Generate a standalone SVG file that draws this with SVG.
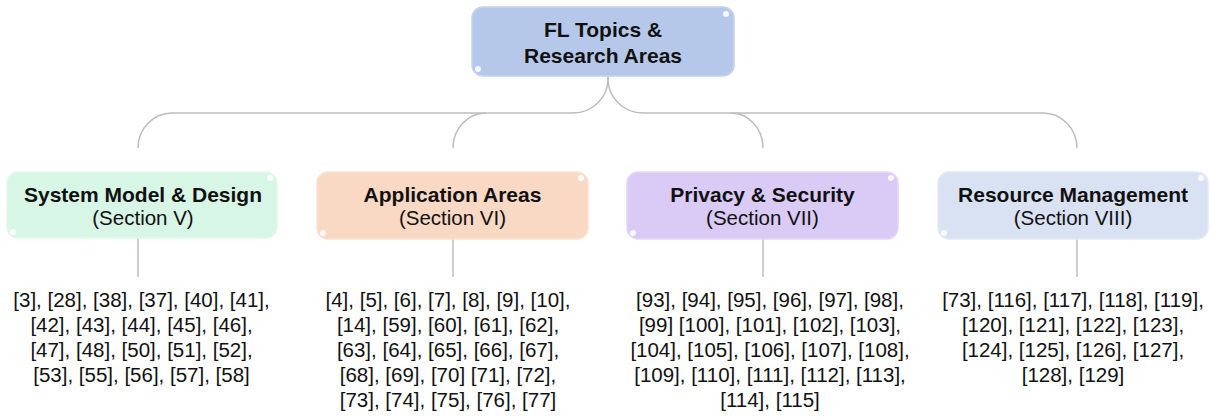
<svg xmlns="http://www.w3.org/2000/svg" width="1211" height="418" viewBox="0 0 1211 418">
<style>
  .box { stroke-width: 1.5; }
  .dot { fill: #ffffff; opacity: 0.85; }
  .t { font-family: "Liberation Sans", Arial, sans-serif; fill: #111111; text-anchor: middle; }
  .title { font-size: 21px; font-weight: bold; }
  .sub { font-size: 20.5px; }
  .refs { font-size: 20.5px; }
  .conn path { fill: none; stroke: #bdbdbd; stroke-width: 1.5; }
</style>
<rect width="1211" height="418" fill="#ffffff"/>

<g id="connectors" class="conn">
  <path d="M608,76 L608,79 A35,34 0 0 1 573,113 L172,113 A34,35 0 0 0 138,148"/>
  <path d="M486,113 A33,35 0 0 0 453,148"/>
  <path d="M608,76 L608,79 A35,34 0 0 0 643,113 L1043,113 A34,35 0 0 1 1077,148"/>
  <path d="M731,113 A32,35 0 0 1 763,148"/>
  <path d="M138,238 L138,277"/>
  <path d="M453,238 L453,277"/>
  <path d="M763,238 L763,277"/>
  <path d="M1077,238 L1077,277"/>
</g>

<g id="root">
  <rect class="box" x="472" y="7" width="262" height="69" rx="11" fill="#b6c8e9" stroke="#c3d2ee"/>
  <circle class="dot" cx="726" cy="14" r="3"/>
  <circle class="dot" cx="478" cy="69" r="3"/>
  <text class="t title" x="603" y="37">FL Topics &amp;</text>
  <text class="t title" x="603" y="63">Research Areas</text>
</g>

<g id="system-model">
  <rect class="box" x="7" y="172" width="270" height="66" rx="11" fill="#d8f6e5" stroke="#e2f8ec"/>
  <circle class="dot" cx="270" cy="178" r="3"/>
  <circle class="dot" cx="13" cy="232" r="3"/>
  <text class="t title" x="143" y="202">System Model &amp; Design</text>
  <text class="t sub" x="143" y="225">(Section V)</text>
  <text class="t refs" x="141.5" y="307">[3], [28], [38], [37], [40], [41],</text>
  <text class="t refs" x="141.5" y="332">[42], [43], [44], [45], [46],</text>
  <text class="t refs" x="141.5" y="357">[47], [48], [50], [51], [52],</text>
  <text class="t refs" x="141.5" y="382">[53], [55], [56], [57], [58]</text>
</g>

<g id="application-areas">
  <rect class="box" x="317" y="172" width="271" height="67" rx="11" fill="#f9d8c4" stroke="#fbe1d1"/>
  <circle class="dot" cx="581" cy="178" r="3"/>
  <circle class="dot" cx="323" cy="233" r="3"/>
  <text class="t title" x="452.5" y="202">Application Areas</text>
  <text class="t sub" x="452.5" y="225">(Section VI)</text>
  <text class="t refs" x="448" y="307">[4], [5], [6], [7], [8], [9], [10],</text>
  <text class="t refs" x="448" y="332">[14], [59], [60], [61], [62],</text>
  <text class="t refs" x="448" y="357">[63], [64], [65], [66], [67],</text>
  <text class="t refs" x="448" y="382">[68], [69], [70] [71], [72],</text>
  <text class="t refs" x="448" y="407">[73], [74], [75], [76], [77]</text>
</g>

<g id="privacy-security">
  <rect class="box" x="627" y="172" width="271" height="67" rx="11" fill="#dacaf6" stroke="#e3d7f8"/>
  <circle class="dot" cx="891" cy="178" r="3"/>
  <circle class="dot" cx="633" cy="233" r="3"/>
  <text class="t title" x="762.5" y="202">Privacy &amp; Security</text>
  <text class="t sub" x="762.5" y="225">(Section VII)</text>
  <text class="t refs" x="770" y="307">[93], [94], [95], [96], [97], [98],</text>
  <text class="t refs" x="770" y="332">[99] [100], [101], [102], [103],</text>
  <text class="t refs" x="770" y="357">[104], [105], [106], [107], [108],</text>
  <text class="t refs" x="770" y="382">[109], [110], [111], [112], [113],</text>
  <text class="t refs" x="770" y="407">[114], [115]</text>
</g>

<g id="resource-management">
  <rect class="box" x="938" y="172" width="270" height="67" rx="11" fill="#d9e2f3" stroke="#e3e9f6"/>
  <circle class="dot" cx="1201" cy="178" r="3"/>
  <circle class="dot" cx="944" cy="233" r="3"/>
  <text class="t title" x="1073" y="202">Resource Management</text>
  <text class="t sub" x="1073" y="225">(Section VIII)</text>
  <text class="t refs" x="1073" y="307">[73], [116], [117], [118], [119],</text>
  <text class="t refs" x="1073" y="332">[120], [121], [122], [123],</text>
  <text class="t refs" x="1073" y="357">[124], [125], [126], [127],</text>
  <text class="t refs" x="1073" y="382">[128], [129]</text>
</g>
</svg>
